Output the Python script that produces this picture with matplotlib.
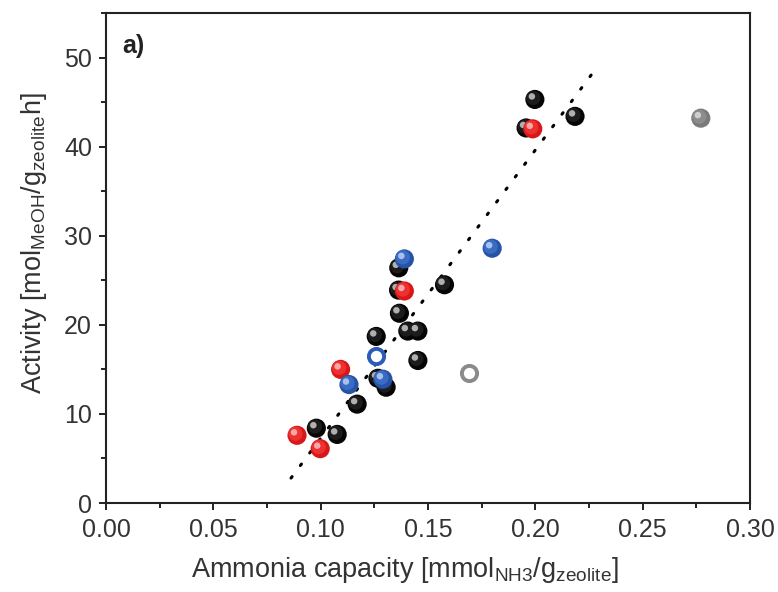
import matplotlib
matplotlib.use("Agg")
import matplotlib.pyplot as plt
from matplotlib.ticker import MultipleLocator
from matplotlib.transforms import offset_copy

plt.rcParams['font.family'] = ['Liberation Sans', 'DejaVu Sans']
plt.rcParams['mathtext.fontset'] = 'custom'
plt.rcParams['mathtext.rm'] = 'Liberation Sans'
plt.rcParams['mathtext.it'] = 'Liberation Sans:italic'

# data
black_x = [0.1998, 0.2185, 0.1957, 0.1577, 0.1364, 0.1363, 0.1367, 0.1259,
           0.1406, 0.1453, 0.1453, 0.1267, 0.1305, 0.1170, 0.0980, 0.1077]
black_y = [45.3, 43.4, 42.1, 24.5, 26.4, 23.9, 21.3, 18.7,
           19.3, 19.3, 16.0, 14.0, 13.0, 11.1, 8.4, 7.7]

red_x = [0.1988, 0.1390, 0.1093, 0.0890, 0.0998]
red_y = [42.0, 23.8, 15.0, 7.6, 6.1]

blue_x = [0.1390, 0.1799, 0.1132, 0.1290]
blue_y = [27.4, 28.6, 13.3, 13.9]

blue_open_x = [0.1259]
blue_open_y = [16.5]

gray_x = [0.2771]
gray_y = [43.2]

gray_open_x = [0.1693]
gray_open_y = [14.6]

fit_x = [0.0862, 0.2262]
fit_y = [2.8, 48.1]

TXT = '#333333'
S = 190

fig = plt.figure(figsize=(7.78, 5.92), dpi=100)
ax = fig.add_axes([0.1362, 0.1503, 0.8278, 0.8277])

ax.plot(fit_x, fit_y, color='black', lw=2.2, linestyle=(0, (0.6, 4.52)),
        dash_capstyle='round', zorder=1)

hl = offset_copy(ax.transData, fig=fig, x=-3, y=3, units='dots')
hl2 = offset_copy(ax.transData, fig=fig, x=-1.5, y=1.5, units='dots')


def balls(x, y, base, mid, shine, z):
    ax.scatter(x, y, s=S, color=base, edgecolors='none', zorder=z)
    ax.scatter(x, y, s=S * 0.55, color=mid, edgecolors='none', zorder=z,
               transform=hl2)
    ax.scatter(x, y, s=22, color=shine, edgecolors='none', zorder=z,
               transform=hl)


balls(black_x, black_y, '#050505', '#1c1c1c', '#b0b0b0', 3)
balls(red_x, red_y, '#d81818', '#ee3030', '#f6a8a8', 4)
balls(blue_x, blue_y, '#2653a6', '#3a6cc4', '#a8c0ea', 5)
balls(gray_x, gray_y, '#7a7a7a', '#8c8c8c', '#cfcfcf', 5)

ax.scatter(blue_open_x, blue_open_y, s=120, facecolors='white',
           edgecolors='#2a5cb8', linewidths=2.8, zorder=6)
ax.scatter(gray_open_x, gray_open_y, s=120, facecolors='white',
           edgecolors='#8a8a8a', linewidths=2.8, zorder=6)

ax.set_xlim(0, 0.30)
ax.set_ylim(0, 55)
ax.xaxis.set_major_locator(MultipleLocator(0.05))
ax.xaxis.set_minor_locator(MultipleLocator(0.025))
ax.yaxis.set_major_locator(MultipleLocator(10))
ax.yaxis.set_minor_locator(MultipleLocator(5))
ax.xaxis.set_major_formatter(lambda v, p: f"{v:.2f}")

for sp in ax.spines.values():
    sp.set_linewidth(1.5)
    sp.set_color('#222222')
ax.tick_params(which='major', direction='out', length=5, width=1.4,
               labelsize=18, labelcolor=TXT, color='#222222')
ax.tick_params(axis='x', which='major', pad=6)
ax.tick_params(axis='y', which='major', pad=5)
ax.tick_params(which='minor', direction='out', length=3.5, width=1.4,
               color='#222222')

ax.set_xlabel(r'Ammonia capacity [mmol$_{\mathrm{NH3}}$/g$_{\mathrm{zeolite}}$]',
              fontsize=19.5, color=TXT, va='center', ha='center')
ax.set_ylabel(r'Activity [mol$_{\mathrm{MeOH}}$/g$_{\mathrm{zeolite}}$h]',
              fontsize=19.5, color=TXT, va='center', ha='center')
ax.xaxis.set_label_coords(0.464, -0.137)
ax.yaxis.set_label_coords(-0.112, 0.531)

ax.text(0.026, 0.918, 'a)', transform=ax.transAxes, fontsize=18,
        fontweight='bold', color='#222222', va='baseline')

fig.savefig('out.png', dpi=100)
